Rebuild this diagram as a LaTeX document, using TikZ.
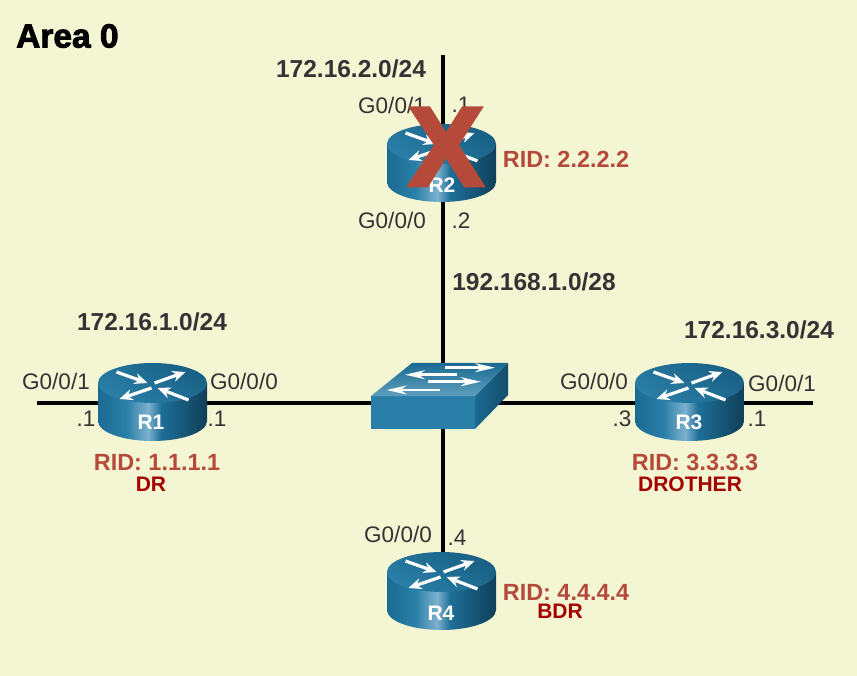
\documentclass[tikz,border=0pt]{standalone}
\usepackage{fontspec}
\setmainfont{Liberation Sans}
\newfontfamily\areafont[FakeBold=2.5]{Liberation Sans Bold}
\newfontfamily\markfont[FakeBold=3.5]{Liberation Sans Bold}
\usetikzlibrary{arrows.meta,calc}
\definecolor{areabg}{HTML}{F4F5D3}
\definecolor{labeltext}{HTML}{333333}
\definecolor{ridred}{HTML}{B54A3A}
\definecolor{rolered}{HTML}{A50000}
\definecolor{sidea}{HTML}{1B6A92}
\definecolor{sideb}{HTML}{2A7FA8}
\definecolor{sidec}{HTML}{7DB1CE}
\definecolor{sided}{HTML}{1D6E97}
\definecolor{sidee}{HTML}{103F59}
\pgfdeclarehorizontalshading{routerside}{100bp}{color(0bp)=(sidea); color(25bp)=(sidea); color(38bp)=(sideb); color(48bp)=(sidec); color(54bp)=(sided); color(75bp)=(sidee); color(100bp)=(sidee)}
\tikzset{
  link/.style={draw, black, line width=3.6pt},
  routerbox/.style={inner sep=0pt, minimum width=109pt, minimum height=80pt},
  arrowwhite/.style={draw=white, line width=3.2pt, -{Stealth[length=13pt,width=11pt]}},
  switcharrow/.style={draw=white, line width=2.6pt, -{Stealth[length=20pt,width=9pt]}},
  pics/router/.style={code={
    \path [shading=routerside] (-54.5,-20) -- (-54.5,18) arc [start angle=180, end angle=0, x radius=54.5, y radius=20] -- (54.5,-20) -- cycle;
    \path [top color=sidea!90!black, bottom color=sideb, shading angle=-30] (0,-20) ellipse [x radius=54.5, y radius=20];
    \draw [arrowwhite] (-36,-31) -- (-5,-20);
    \draw [arrowwhite] (2,-20) -- (33,-31);
    \draw [arrowwhite] (-1,-15) -- (-33,-4);
    \draw [arrowwhite] (36,-3) -- (5,-15);
  }}
}
\tikzstyle{iflabel} = [inner sep=0pt, text=labeltext, font=\fontsize{22.5}{24}\selectfont]
\tikzstyle{netlabel} = [inner sep=0pt, text=labeltext, font=\fontsize{24.5}{26}\selectfont\bfseries]
\tikzstyle{ridlabel} = [inner sep=0pt, text=ridred, font=\fontsize{23.4}{26}\selectfont\bfseries]
\tikzstyle{rolelabel} = [inner sep=0pt, text=rolered, font=\fontsize{21}{22}\selectfont\bfseries]
\tikzstyle{routertag} = [inner sep=0pt, text=white, font=\fontsize{21}{24}\selectfont\bfseries]
\newcommand{\routernode}[2]{node (R#1) [routerbox] at (#2) {}}
\newcommand{\iftext}[3]{node (if#1) [iflabel] at (#2) {#3}}
\newcommand{\nettext}[3]{node (net#1) [netlabel] at (#2) {#3}}
\newcommand{\ridtext}[2]{node (rid#1) [ridlabel] at (#2) {RID: #1.#1.#1.#1}}
\newcommand{\roletext}[3]{node (role#1) [rolelabel] at (#2) {#3}}

\begin{document}
\begin{tikzpicture}[x=1pt,y=-1pt]

  \fill [areabg] (0,0) rectangle (857,676);

  % Place routers, hub and free line ends
  \path \routernode{1}{152.5,403};
  \path \routernode{2}{442.8,164};
  \path \routernode{3}{689.5,403};
  \path \routernode{4}{442.8,592};
  \coordinate (hub) at (442.8,403);
  \coordinate (lan2) at (442.8,55);
  \coordinate (lan1) at (37,403);
  \coordinate (lan3) at (813,403);

  % Draw links
  \path [link] (lan2) -- (R2.center);
  \path [link] (R2.center) -- (hub);
  \path [link] (lan1) -- (R1.center);
  \path [link] (R1.center) -- (hub);
  \path [link] (hub) -- (R3.center);
  \path [link] (R3.center) -- (lan3);
  \path [link] (hub) -- (R4.center);

  % Draw devices
  \path (R1.center) pic {router};
  \path ($(R2.center)+(-1.3,0)$) pic {router};
  \path (R3.center) pic {router};
  \path ($(R4.center)+(-1.3,0)$) pic {router};
  \node (tag1) [routertag] at (151,422) {R1};
  \node (tag2) [routertag] at (442,185) {R2};
  \node (tag3) [routertag] at (689,422) {R3};
  \node (tag4) [routertag] at (441,613) {R4};

  \path [fill=sideb] (371,396) -- (475,396) -- (475,429) -- (371,429) -- cycle;
  \path [top color=sidea, bottom color=sideb!75!white] (371,396) -- (412,363) -- (508,363) -- (475,396) -- cycle;
  \path [left color=sidea, right color=sidee!70!sidea] (475,396) -- (508,363) -- (508,395) -- (475,429) -- cycle;
  \draw [switcharrow] (445,367.7) -- (495,367.7);
  \draw [switcharrow] (456.7,374.7) -- (405,374.7);
  \draw [switcharrow] (428,381.7) -- (480.7,381.7);
  \draw [switcharrow] (440,390) -- (386.7,390);

  % Draw labels
  \node (areaname) [anchor=west, inner sep=0pt, font=\fontsize{33.5}{36}\selectfont\areafont] at (16,36) {Area 0};
  \path \nettext{a}{351,69}{172.16.2.0/24};
  \path \nettext{b}{534,282}{192.168.1.0/28};
  \path \nettext{c}{152,322}{172.16.1.0/24};
  \path \nettext{d}{759,330}{172.16.3.0/24};

  \path \iftext{a}{392,105}{G0/0/1};
  \path \iftext{b}{461,105}{.1};
  \path \iftext{c}{392,220}{G0/0/0};
  \path \iftext{d}{461,221}{.2};
  \path \iftext{e}{56,381}{G0/0/1};
  \path \iftext{f}{244,381}{G0/0/0};
  \path \iftext{g}{86,419}{.1};
  \path \iftext{h}{217,419}{.1};
  \path \iftext{i}{594,381}{G0/0/0};
  \path \iftext{j}{782,383}{G0/0/1};
  \path \iftext{k}{622,419}{.3};
  \path \iftext{l}{757,419}{.1};
  \path \iftext{m}{398,534}{G0/0/0};
  \path \iftext{n}{457,538}{.4};

  \path \ridtext{1}{157,462};
  \path \ridtext{2}{566,159};
  \path \ridtext{3}{695,462};
  \path \ridtext{4}{566,592};
  \path \roletext{a}{151,484}{DR};
  \path \roletext{b}{690,484}{DROTHER};
  \path \roletext{c}{560,611}{BDR};

  \node (failmark) [inner sep=0pt, text=ridred, font=\fontsize{112}{112}\selectfont\markfont] at (446,147) {X};

\end{tikzpicture}
\end{document}
